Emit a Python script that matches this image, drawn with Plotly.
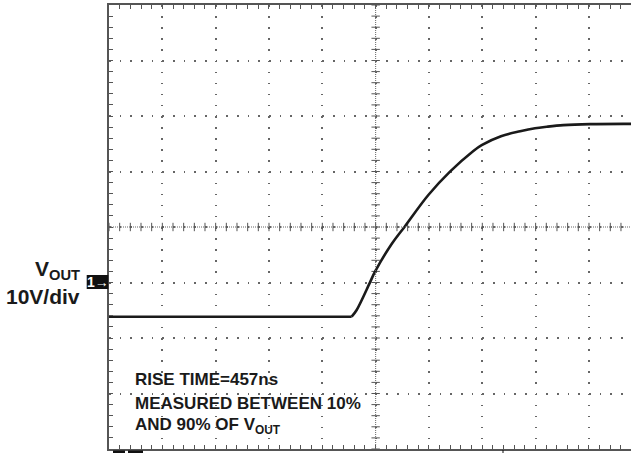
import numpy as np
import plotly.graph_objects as go

# ---- data (in scope divisions) ----
t_div = [0.0, 2.0, 4.0, 4.550, 4.644, 4.894, 4.988, 5.300, 5.544, 5.988, 6.394,
         6.832, 6.988, 7.35, 7.71, 7.988, 8.21, 8.52, 9.02, 9.79]
v_div = [-1.616, -1.616, -1.616, -1.616, -1.495, -0.997, -0.805, -0.306, 0.006, 0.577, 0.997,
         1.37, 1.475, 1.635, 1.725, 1.78, 1.807, 1.836, 1.854, 1.858]
corner_index = 3

W, H = 631, 453
L, R, T, B = 109, 0, 5, 4
PW, PH = W - L - R, H - T - B
XDIV = 53.33
X_MAX = PW / XDIV

def pxx(px):
    return (px - L) / PW

def pxy(py):
    return (H - B - py) / PH

FONT = "Liberation Sans, Arial, sans-serif"
INK = "#1a1a1a"

def bold(size, color=INK):
    return dict(family=FONT, size=size, color=color, weight="bold")

fig = go.Figure()

# centre-line ticks
yt = np.round(np.arange(-4, 4.001, 0.2), 3)
xt = np.round(np.arange(0, X_MAX, 0.2), 3)
fig.add_trace(go.Scatter(x=[5] * len(yt), y=yt, mode="markers", hoverinfo="skip",
                         marker=dict(symbol="line-ew", size=6, line=dict(width=1, color="#555"))))
fig.add_trace(go.Scatter(x=xt, y=[0] * len(xt), mode="markers", hoverinfo="skip",
                         marker=dict(symbol="line-ns", size=6, line=dict(width=1, color="#555"))))

# waveform: flat part then smooth rise
fig.add_trace(go.Scatter(x=t_div[:corner_index + 1], y=v_div[:corner_index + 1], mode="lines",
                         hoverinfo="skip", line=dict(color=INK, width=2.6, shape="linear")))
fig.add_trace(go.Scatter(x=t_div[corner_index:], y=v_div[corner_index:], mode="lines",
                         hoverinfo="skip", line=dict(color=INK, width=2.6, shape="spline", smoothing=1.0)))

shapes = [
    dict(type="line", xref="x", yref="paper", x0=5, x1=5, y0=0, y1=1,
         line=dict(color="#666", width=1, dash="1px,1px")),
    dict(type="line", xref="paper", yref="y", x0=0, x1=1, y0=0, y1=0,
         line=dict(color="#666", width=1, dash="1px,1px")),
    # channel marker box
    dict(type="rect", xref="paper", yref="paper", x0=pxx(86.7), x1=pxx(108.3),
         y0=pxy(289), y1=pxy(275), fillcolor="#111", line=dict(width=0)),
    # cut-off fragments at the bottom
    dict(type="rect", xref="paper", yref="paper", x0=pxx(113), x1=pxx(125),
         y0=pxy(453), y1=pxy(450.5), fillcolor="#111", line=dict(width=0)),
    dict(type="rect", xref="paper", yref="paper", x0=pxx(128), x1=pxx(143),
         y0=pxy(453), y1=pxy(450.5), fillcolor="#111", line=dict(width=0)),
    dict(type="line", xref="paper", yref="paper", x0=pxx(503), x1=pxx(503),
         y0=pxy(453), y1=pxy(450), line=dict(color="#111", width=1)),
]

annotations = [
    dict(text="1→", x=pxx(97.5), y=pxy(282), xref="paper", yref="paper",
         showarrow=False, font=bold(14, "white"), xanchor="center", yanchor="middle"),
    dict(text="V<sub>OUT</sub>",
         x=pxx(82), y=pxy(270), xref="paper", yref="paper", showarrow=False,
         font=bold(21), xanchor="right", yanchor="middle"),
    dict(text="10V/div", x=pxx(82), y=pxy(296), xref="paper", yref="paper",
         showarrow=False, font=bold(21), xanchor="right", yanchor="middle"),
    dict(text="RISE TIME=457ns", x=pxx(133), y=pxy(379.5), xref="paper", yref="paper",
         showarrow=False, font=bold(17), xanchor="left", yanchor="middle"),
    dict(text="MEASURED BETWEEN 10%", x=pxx(133), y=pxy(403.5), xref="paper", yref="paper",
         showarrow=False, font=bold(17), xanchor="left", yanchor="middle"),
    dict(text="AND 90% OF V<sub>OUT</sub>",
         x=pxx(133), y=pxy(426), xref="paper", yref="paper",
         showarrow=False, font=bold(17), xanchor="left", yanchor="middle"),
]

fig.update_layout(
    width=W, height=H, autosize=False,
    margin=dict(l=L, r=R, t=T, b=B, pad=0),
    paper_bgcolor="white", plot_bgcolor="white",
    showlegend=False,
    shapes=shapes, annotations=annotations,
    xaxis=dict(range=[0, X_MAX], dtick=1, tick0=0, showticklabels=False,
               showgrid=True, gridcolor="#666", gridwidth=1.5, griddash="1.5px,9.6px",
               zeroline=False, showline=True, linecolor="#555", linewidth=2, mirror="ticks",
               ticks="inside", ticklen=4, tickcolor="#555", tickwidth=1,
               minor=dict(dtick=0.2, ticks="inside", ticklen=4, tickcolor="#555", showgrid=False)),
    yaxis=dict(range=[-4, 4], dtick=1, tick0=0, showticklabels=False,
               showgrid=True, gridcolor="#666", gridwidth=1.5, griddash="1.5px,9.17px",
               zeroline=False, showline=True, linecolor="#555", linewidth=2, mirror=False,
               ticks="inside", ticklen=4, tickcolor="#555", tickwidth=1,
               minor=dict(dtick=0.2, ticks="inside", ticklen=4, tickcolor="#555", showgrid=False)),
)

fig.write_html("out.html", config={"displayModeBar": False},
               post_script="document.body.style.margin='0';")
